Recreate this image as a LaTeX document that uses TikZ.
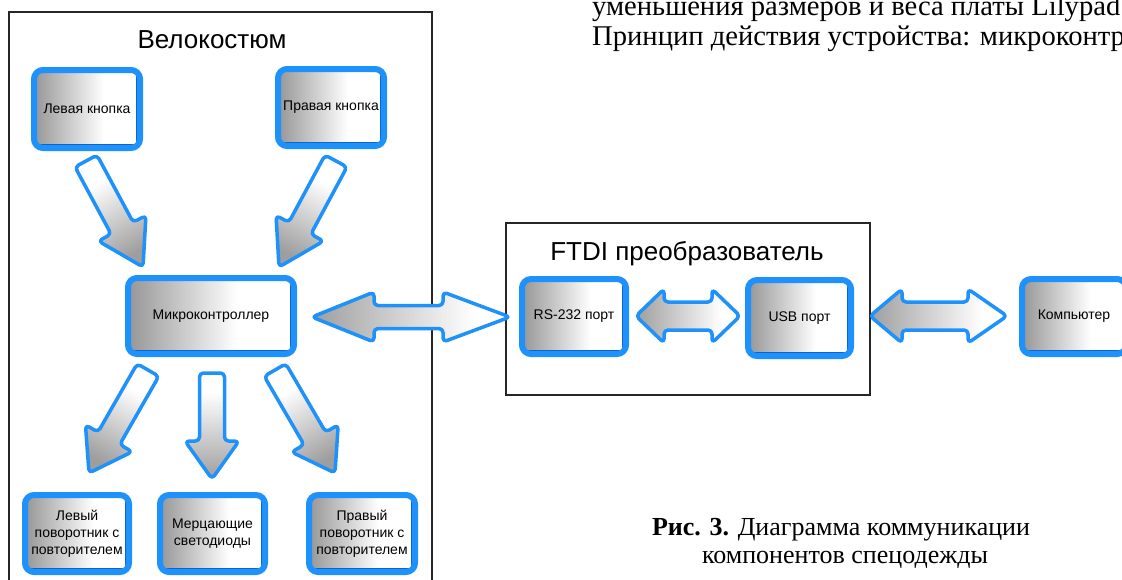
\documentclass[tikz,border=0pt]{standalone}
\usepackage{fontspec}
\setmainfont{Liberation Serif}
\setsansfont{Liberation Sans}
\usetikzlibrary{calc}
\definecolor{bblue}{RGB}{30,146,250}
\definecolor{dblue}{RGB}{12,100,205}
\definecolor{bgray}{RGB}{150,150,150}
\definecolor{agray}{RGB}{158,158,158}
\pgfdeclarehorizontalshading{boxshade}{100bp}{color(0bp)=(bgray); color(25bp)=(bgray); color(58bp)=(white); color(100bp)=(white)}
\pgfdeclarehorizontalshading{arrshade}{100bp}{color(0bp)=(agray); color(25bp)=(agray); color(66bp)=(white); color(100bp)=(white)}
\tikzset{
  blbox/.style={shade, shading=boxshade, draw=bblue, line width=6pt, rounded corners=9pt,
    font=\sffamily\fontsize{14}{17}\selectfont, align=center, inner sep=1pt,
    path picture={\draw[dblue, line width=8pt, rounded corners=0pt]
      ([xshift=-30pt]path picture bounding box.south west) -- (path picture bounding box.south east)
      -- ([yshift=30pt]path picture bounding box.north east);}},
  fatarr/.style={shade, shading=arrshade, draw=bblue, line width=3.5pt, rounded corners=4pt, line join=round},
  frameline/.style={draw=black!85, line width=1.6pt},
  ttl/.style={font=\sffamily\fontsize{26}{30}\selectfont, anchor=base, inner sep=0pt},
  bodytext/.style={font=\fontsize{28.6}{30}\selectfont, anchor=base west, inner sep=0pt},
  captext/.style={font=\fontsize{26}{28}\selectfont, anchor=base, inner sep=0pt},
}
% name, x1, y1, x2, y2, head length, shaft half width, head half width
\newcommand\fatarrow[8]{%
  \coordinate (#1s) at (#2,#3);
  \coordinate (#1e) at (#4,#5);
  \coordinate (#1h) at ($(#1e)!#6pt!(#1s)$);
  \pgfmathsetmacro\shang{atan2(-(#5-#3),(#4-#2))-180}
  \path[fatarr, shading angle=\shang]
    ($(#1s)!#7pt!90:(#1e)$) -- ($(#1h)!#7pt!-90:(#1s)$) -- ($(#1h)!#8pt!-90:(#1s)$)
    -- (#1e) -- ($(#1h)!#8pt!90:(#1s)$) -- ($(#1h)!#7pt!90:(#1s)$)
    -- ($(#1s)!#7pt!-90:(#1e)$) -- cycle;
}
% name, x1, y, x2, head length left, head length right, shaft half width, head half width
\newcommand\dblarrow[8]{%
  \coordinate (#1a) at (#2,#3);
  \coordinate (#1b) at (#4,#3);
  \path[fatarr]
    (#1a) -- ($(#1a)+(#5,-#8)$) -- ($(#1a)+(#5,-#7)$) -- ($(#1b)+(-#6,-#7)$) -- ($(#1b)+(-#6,-#8)$)
    -- (#1b) -- ($(#1b)+(-#6,#8)$) -- ($(#1b)+(-#6,#7)$) -- ($(#1a)+(#5,#7)$) -- ($(#1a)+(#5,#8)$) -- cycle;
}
\begin{document}
\begin{tikzpicture}[x=1pt,y=-1pt]
\path[use as bounding box, fill=white] (0,0) rectangle (1122,579);
\begin{scope}
\clip (0,0) rectangle (1122,579);

% frames
\draw[frameline] (9,12) rectangle (432,600);
\draw[frameline] (506,223) rectangle (870,395);

% titles
\node[ttl] (t1) at (212,48) {Велокостюм};
\node[ttl] (t2) at (687,260) {FTDI преобразователь};

% boxes
\node[blbox, minimum width=106pt, minimum height=78pt] (lbtn) at (87,109) {Левая кнопка};
\node[blbox, minimum width=106pt, minimum height=77pt] (rbtn) at (331,107.5) {Правая кнопка};
\node[blbox, minimum width=166pt, minimum height=76pt] (mcu) at (211,316) {Микроконтроллер};
\node[blbox, minimum width=104pt, minimum height=77pt] (lturn) at (77,533.5) {Левый\\поворотник с\\повторителем};
\node[blbox, minimum width=105pt, minimum height=77pt] (leds) at (212.5,533.5) {Мерцающие\\светодиоды};
\node[blbox, minimum width=106pt, minimum height=77pt] (rturn) at (362,533.5) {Правый\\поворотник с\\повторителем};
\node[blbox, minimum width=104pt, minimum height=75pt] (rs) at (574,316.5) {RS-232 порт};
\node[blbox, minimum width=103pt, minimum height=76pt] (usb) at (799.5,318) {USB порт};
\node[blbox, minimum width=104pt, minimum height=75pt] (pc) at (1074,316.5) {Компьютер};

% arrows
\fatarrow{a1}{86}{161}{143}{267}{44}{12.5}{27}
\fatarrow{a2}{336}{161}{279}{267}{44}{12.5}{27}
\fatarrow{a3}{148}{370}{89}{473}{40}{12.5}{27}
\fatarrow{a4}{212}{373}{212}{479}{38}{12.5}{27}
\fatarrow{a5}{275}{370}{335}{473}{40}{12.5}{27}
\dblarrow{b1}{312}{317}{510}{62}{67}{11.5}{25}
\dblarrow{b2}{636}{316}{740}{28}{28}{14}{27}
\dblarrow{b3}{870}{316}{1007}{32}{39}{14}{27}

% surrounding text
\node[bodytext] (tx1) at (592,15) {уменьшения размеров и веса платы Lilypad};
\node[bodytext] (tx2) at (592,45) {Принцип действия устройства: микроконтроллер};
\node[captext] (cap1) at (841,535) {\textbf{Рис. 3.} Диаграмма коммуникации};
\node[captext] (cap2) at (845,563) {компонентов спецодежды};
\end{scope}
\end{tikzpicture}
\end{document}
